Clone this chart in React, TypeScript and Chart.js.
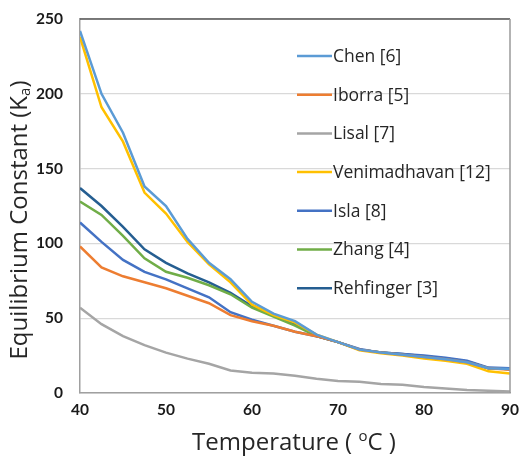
import React, { useEffect, useRef } from "react";
import { Chart, registerables } from "chart.js";

Chart.register(...registerables);

const temperatures = [40, 42.5, 45, 47.5, 50, 52.5, 55, 57.5, 60, 62.5, 65, 67.5, 70, 72.5, 75, 77.5, 80, 82.5, 85, 87.5, 90];

const chen = [242, 200, 174, 138, 125, 103, 87, 76, 61, 53, 48, 39, 34, 29, 27, 25.5, 24, 22.5, 20.5, 16.5, 16];
const iborra = [98, 84, 78, 74, 70, 65, 60, 52, 48, 45, 41, 38, 34, 29, 27, 25.5, 24, 22.5, 20.5, 16.5, 15.5];
const lisal = [57, 46, 38, 32, 27, 23, 19.5, 15, 13.5, 13, 11.5, 9.5, 8, 7.5, 6, 5.5, 4, 3, 2, 1.5, 1];
const venimadhavan = [238, 191, 168, 134, 120, 101, 86, 74, 59, 52, 47, 39, 34, 28.5, 26.5, 25, 23, 21.5, 19.5, 14.5, 13];
const isla = [114, 101, 89, 81, 76, 70, 64, 54, 49, 45, 41, 38, 34, 29.5, 27, 26, 25, 23.5, 21.5, 17, 16.5];
const zhang = [128, 119, 105, 90, 81, 77, 72, 66, 57, 51, 45, 38, 34, 29, 27, 25.5, 24, 23, 21, 16.5, 16];
const rehfinger = [137, 125, 111, 96, 87, 80, 74, 67, 58, 52, 46, 38, 34, 29, 27, 26, 24.5, 23, 21, 16.5, 16];

const seriesLabels = ["Chen [6]", "Iborra [5]", "Lisal [7]", "Venimadhavan [12]", "Isla [8]", "Zhang [4]", "Rehfinger [3]"];
const seriesValues = [chen, iborra, lisal, venimadhavan, isla, zhang, rehfinger];
const seriesColors = ["#5B9BD5", "#ED7D31", "#A5A5A5", "#FFC000", "#4472C4", "#70AD47", "#255E91"];

// axis titles: [main text, raised/lowered part, tail]
const xTitleParts = ["Temperature ( ", "o", "C )"];
const yTitleParts = ["Equilibrium Constant (K", "a", ")"];

const FONT = "'Open Sans', Lato, 'DejaVu Sans', sans-serif";
const TICK_FONT = "Lato, 'Open Sans', sans-serif";

function drawParts(ctx: any, parts: string[], size: number, shift: number) {
  const big = size + "px " + FONT;
  const small = Math.round(size * 0.62) + "px " + FONT;
  ctx.font = big;
  const w0 = ctx.measureText(parts[0]).width;
  const w2 = ctx.measureText(parts[2]).width;
  ctx.font = small;
  const w1 = ctx.measureText(parts[1]).width;
  const total = w0 + w1 + w2;
  let x = -total / 2;
  ctx.textAlign = "left";
  ctx.textBaseline = "alphabetic";
  ctx.font = big;
  ctx.fillText(parts[0], x, 0);
  x += w0;
  ctx.font = small;
  ctx.fillText(parts[1], x, shift);
  x += w1;
  ctx.font = big;
  ctx.fillText(parts[2], x, 0);
}

const frameLegendTitles = {
  id: "frameLegendTitles",
  afterDatasetsDraw(chart: any) {
    const { ctx, chartArea } = chart;
    ctx.save();
    ctx.lineWidth = 1.5;
    ctx.strokeStyle = "#555555";
    ctx.beginPath();
    ctx.moveTo(chartArea.left, chartArea.top);
    ctx.lineTo(chartArea.right, chartArea.top);
    ctx.stroke();
    ctx.strokeStyle = "#9a9a9a";
    ctx.beginPath();
    ctx.moveTo(chartArea.right, chartArea.top);
    ctx.lineTo(chartArea.right, chartArea.bottom);
    ctx.stroke();

    // legend inside the plot
    const x0 = 297;
    const lineLen = 35;
    const y0 = 56;
    const step = 38.7;
    ctx.font = "17.5px " + FONT;
    ctx.textBaseline = "middle";
    ctx.textAlign = "left";
    chart.data.datasets.forEach((ds: any, i: number) => {
      const y = y0 + i * step;
      ctx.strokeStyle = ds.borderColor;
      ctx.lineWidth = 2.5;
      ctx.beginPath();
      ctx.moveTo(x0, y);
      ctx.lineTo(x0 + lineLen, y);
      ctx.stroke();
      ctx.fillStyle = "#262626";
      ctx.fillText(ds.label, x0 + lineLen + 1, y + 1);
    });

    // axis titles
    ctx.fillStyle = "#262626";
    ctx.save();
    ctx.translate(294, 450);
    drawParts(ctx, xTitleParts, 24, -9);
    ctx.restore();
    ctx.save();
    ctx.translate(27, 220);
    ctx.rotate(-Math.PI / 2);
    drawParts(ctx, yTitleParts, 24, 3);
    ctx.restore();
    ctx.restore();
  },
};

export default function App() {
  const canvasRef = useRef<HTMLCanvasElement | null>(null);

  useEffect(() => {
    if (!canvasRef.current) return;
    const datasets = seriesLabels.map((label, i) => ({
      label,
      data: temperatures.map((t, j) => ({ x: t, y: seriesValues[i][j] })),
      borderColor: seriesColors[i],
      backgroundColor: seriesColors[i],
      borderWidth: 2.5,
      pointRadius: 0,
      tension: 0,
      fill: false,
    }));
    const chart = new Chart(canvasRef.current, {
      type: "line",
      data: { datasets },
      options: {
        animation: false,
        responsive: true,
        maintainAspectRatio: false,
        layout: { padding: { top: 19, right: 10, left: 0, bottom: 0 } },
        plugins: {
          legend: { display: false },
          tooltip: { enabled: false },
        },
        scales: {
          x: {
            type: "linear",
            min: 40,
            max: 90,
            ticks: {
              stepSize: 10,
              padding: 8,
              color: "#1a1a1a",
              font: { family: TICK_FONT, size: 15.5, weight: "bold" },
            },
            grid: { display: false, drawTicks: false },
            border: { display: true, color: "#a0a0a0", width: 1.5 },
            afterFit: (scale: any) => {
              scale.height = 64;
              scale.paddingLeft = 0;
              scale.paddingRight = 0;
            },
          },
          y: {
            min: 0,
            max: 250,
            ticks: {
              stepSize: 50,
              padding: 17,
              color: "#1a1a1a",
              font: { family: TICK_FONT, size: 15.5, weight: "bold" },
            },
            grid: { color: "#d9d9d9", lineWidth: 1.2, drawTicks: false },
            border: { display: true, color: "#a0a0a0", width: 1.5 },
            afterFit: (scale: any) => {
              scale.width = 80;
              scale.paddingTop = 0;
              scale.paddingBottom = 0;
            },
          },
        },
      },
      plugins: [frameLegendTitles],
    });
    return () => chart.destroy();
  }, []);

  return (
    <div style={{ position: "absolute", left: 0, top: 0, width: 520, height: 457 }}>
      <canvas ref={canvasRef} />
    </div>
  );
}
